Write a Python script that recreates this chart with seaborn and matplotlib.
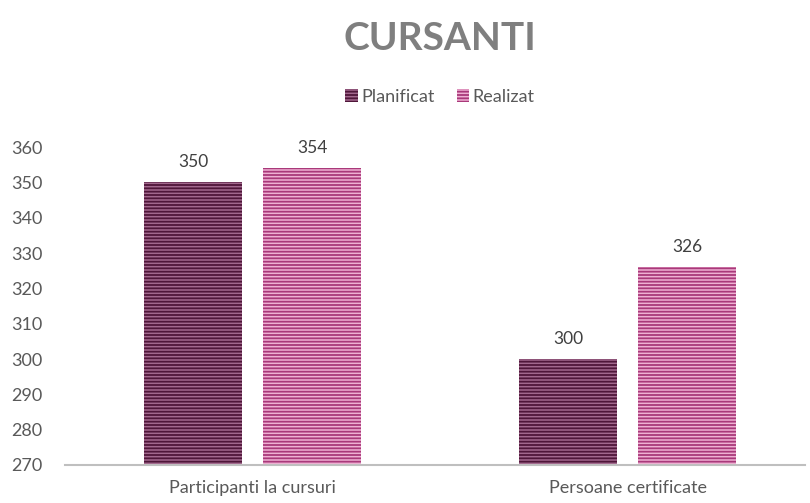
import pandas as pd
import matplotlib.pyplot as plt
import seaborn as sns
from matplotlib.patches import Patch

# Dados
categorias = ['Participanti la cursuri', 'Persoane certificate']
serii = ['Planificat', 'Realizat']
planificat = [350, 300]
realizat = [354, 326]

df = pd.DataFrame({
    'Categorie': categorias * 2,
    'Serie': [serii[0]] * 2 + [serii[1]] * 2,
    'Valoare': planificat + realizat,
})

# culori: fundal + dungi
fundal = {'Planificat': '#a2688d', 'Realizat': '#efb1d3'}
dungi = {'Planificat': '#4f1639', 'Realizat': '#a9397a'}

sns.set_style('white')
plt.rcParams['font.family'] = ['Lato', 'DejaVu Sans']
plt.rcParams['hatch.linewidth'] = 1.3

fig = plt.figure(figsize=(8.1, 5.03), dpi=100)
ax = fig.add_axes([65 / 810, 38 / 503, 740 / 810, 318 / 503])

sns.barplot(data=df, x='Categorie', y='Valoare', hue='Serie', hue_order=serii,
            width=0.635, gap=0.18, legend=False, ax=ax)

for serie, cont in zip(serii, ax.containers):
    for bar in cont:
        bar.set_facecolor(fundal[serie])
        bar.set_edgecolor(dungi[serie])
        bar.set_hatch('-----')
        bar.set_linewidth(0)
    ax.bar_label(cont, padding=9, fontsize=12.5, color='#404040')

ax.set_ylim(270, 360)
ax.set_yticks(range(270, 361, 10))
ax.set_xlim(-0.5, 1.473)
ax.set_xlabel('')
ax.set_ylabel('')
ax.tick_params(axis='both', labelsize=13, labelcolor='#595959', length=0)
ax.tick_params(axis='y', pad=16)
ax.tick_params(axis='x', pad=11)
for s in ['top', 'right', 'left']:
    ax.spines[s].set_visible(False)
ax.spines['bottom'].set_color('#bfbfbf')
ax.spines['bottom'].set_linewidth(1.5)

handles = [Patch(facecolor=fundal[s], edgecolor=dungi[s], hatch='-----', linewidth=0, label=s)
           for s in serii]
fig.legend(handles=handles, loc='center', bbox_to_anchor=(440 / 810, 1 - 97 / 503), ncol=2,
           frameon=False, fontsize=13, handlelength=0.7, handleheight=0.7,
           handletextpad=0.2, columnspacing=1.2, labelcolor='#595959')

fig.text(440 / 810, 1 - 38 / 503, 'CURSANTI', ha='center', va='center',
         fontsize=28, fontweight='bold', color='#7f7f7f')

plt.savefig('out.png', dpi=100)
